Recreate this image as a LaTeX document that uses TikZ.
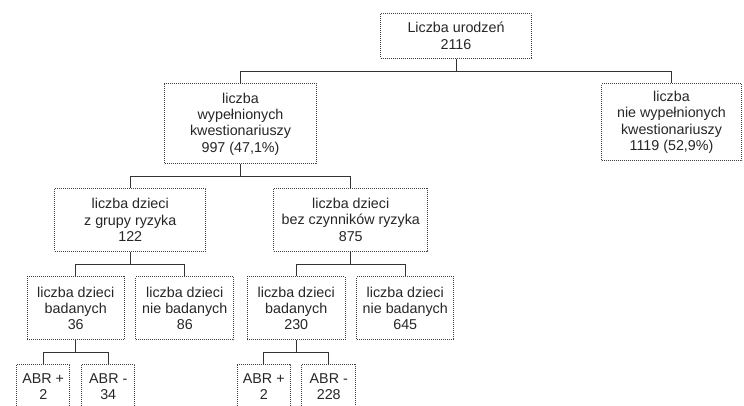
\documentclass[tikz,border=0pt]{standalone}
\usepackage{fontspec}
\setmainfont{Liberation Sans}
\usepackage{tikz}
\usetikzlibrary{trees}

\begin{document}
\begin{tikzpicture}[
    x=1pt, y=1pt,
    every node/.style={font=\fontsize{14.3}{16.3}\selectfont, text=black!85,
        draw=black!75, line width=0.9pt, dash pattern=on 0.9pt off 1.1pt,
        align=center, inner sep=0pt, anchor=north},
    level 1/.style={sibling distance=431pt, level distance=47.5pt},
    level 2/.style={sibling distance=220.5pt, level distance=64pt},
    level 3/.style={sibling distance=109pt, level distance=56.5pt},
    level 4/.style={sibling distance=65pt, level distance=55.5pt},
    edge from parent/.style={draw=black!80, line width=0.9pt, solid},
    edge from parent path={(\tikzparentnode.south) -- ++(0,-12.5) -| (\tikzchildnode.north)}
]
\useasboundingbox (0,0) rectangle (744,-406);
\clip (0,0) rectangle (744,-406);
\node[minimum width=151pt, minimum height=45pt] (urodzenia) at (456,-13) {Liczba urodzeń\\2116}
    child { node[minimum width=152pt, minimum height=80pt] (wypelnione)
            {liczba\\wypełnionych\\kwestionariuszy\\997 (47,1\%)}
        child { node[minimum width=151pt, minimum height=63pt] (ryzyko)
                {liczba dzieci\\z grupy ryzyka\\122}
            child { node[minimum width=97pt, minimum height=63pt] (badaneR)
                    {liczba dzieci\\badanych\\36}
                child { node[minimum width=53pt, minimum height=45pt] (plusR) {ABR +\\2} }
                child { node[minimum width=53pt, minimum height=45pt] (minusR) {ABR -\\34} }
            }
            child { node[minimum width=98pt, minimum height=63pt] (niebadaneR)
                    {liczba dzieci\\nie badanych\\86} }
        }
        child { node[minimum width=154pt, minimum height=63pt] (bezryzyka)
                {liczba dzieci\\bez czynników ryzyka\\875}
            child { node[minimum width=98pt, minimum height=63pt] (badaneB)
                    {liczba dzieci\\badanych\\230}
                child { node[minimum width=53pt, minimum height=45pt] (plusB) {ABR +\\2} }
                child { node[minimum width=54pt, minimum height=45pt] (minusB) {ABR -\\228} }
            }
            child { node[minimum width=97pt, minimum height=63pt] (niebadaneB)
                    {liczba dzieci\\nie badanych\\645} }
        }
    }
    child { node[minimum width=140pt, minimum height=77pt] (niewypelnione)
            {liczba\\nie wypełnionych\\kwestionariuszy\\1119 (52,9\%)} };
\end{tikzpicture}
\end{document}
